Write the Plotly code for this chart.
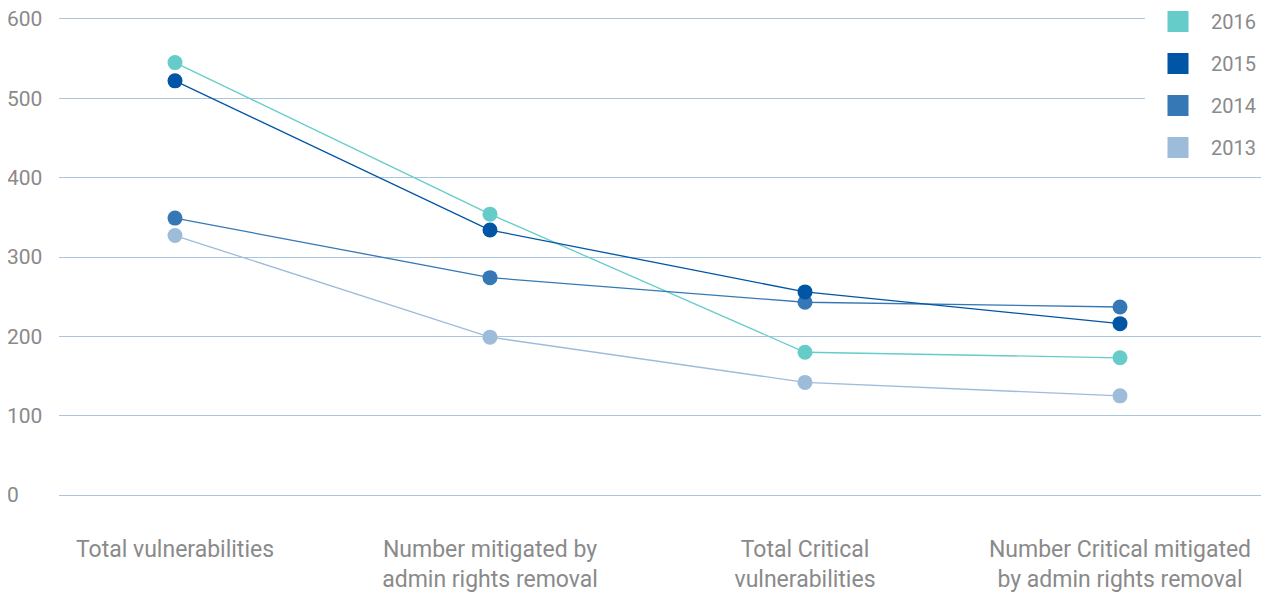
import plotly.graph_objects as go

categories = [
    "Total vulnerabilities",
    "Number mitigated by<br>admin rights removal",
    "Total Critical<br>vulnerabilities",
    "Number Critical mitigated<br>by admin rights removal",
]
legend_years = ["2016", "2015", "2014", "2013"]
draw_order = ["2016", "2013", "2014", "2015"]
values = {
    "2013": [327, 199, 142, 125],
    "2014": [349, 274, 243, 237],
    "2015": [522, 334, 256, 216],
    "2016": [545, 354, 180, 173],
}
colors = {
    "2013": "#9dbcda",
    "2014": "#3578b5",
    "2015": "#0055a5",
    "2016": "#66ccc9",
}
y_ticks = [0, 100, 200, 300, 400, 500, 600]

FONT = "Roboto, Open Sans, sans-serif"
GRAY = "#8a8a8a"
GRID = "#a9c5e0"

fig = go.Figure()
for yr in draw_order:
    fig.add_trace(go.Scatter(
        x=categories, y=values[yr], mode="lines+markers",
        line=dict(color=colors[yr], width=1.3),
        marker=dict(color=colors[yr], size=15),
        showlegend=False, hoverinfo="skip",
    ))
for yr in legend_years:
    fig.add_trace(go.Scatter(
        x=[None], y=[None], mode="markers", name=yr,
        legendgroup=yr,
        marker=dict(color=colors[yr], symbol="square", size=16,
                    line=dict(color=colors[yr], width=7)),
    ))
# invisible trace to activate the label axis
fig.add_trace(go.Scatter(x=[categories[0]], y=[None], yaxis="y2",
                         showlegend=False, hoverinfo="skip"))

T, B, L, R = 3, 97, 0, 15
PH = 592 - T - B
PW = 1269 - L - R
DOM0 = 51
STEP = 315.0
FIRST = 167.0

fig.update_layout(
    width=1269, height=592,
    margin=dict(l=L, r=R, t=T, b=B, autoexpand=False),
    paper_bgcolor="white", plot_bgcolor="white",
    font=dict(family=FONT, size=21, color=GRAY),
    showlegend=True,
    legend=dict(
        x=1137 / PW, xanchor="left",
        y=1 + (T + 6) / PH, yanchor="top",
        bgcolor="white", traceorder="grouped",
        tracegroupgap=13.0, itemwidth=56,
        font=dict(family=FONT, size=20, color=GRAY),
    ),
    xaxis=dict(
        type="category", automargin=False,
        domain=[DOM0 / PW, 1],
        range=[-(FIRST - DOM0) / STEP, (PW - FIRST) / STEP],
        showgrid=False, zeroline=False, showline=False,
        ticks="outside", ticklen=25, tickcolor="rgba(0,0,0,0)",
        tickfont=dict(family=FONT, size=23, color=GRAY),
    ),
    yaxis=dict(
        range=[-10, 610], automargin=False,
        tickvals=y_ticks,
        showticklabels=False,
        showgrid=True, gridcolor=GRID, gridwidth=1,
        zeroline=False, showline=False,
    ),
    yaxis2=dict(
        overlaying="y", anchor="free", position=0, side="left",
        range=[-10, 610], tickvals=y_ticks, automargin=False,
        ticklabelposition="inside", ticklabeloverflow="allow",
        ticklabelstandoff=-5,
        showgrid=False, zeroline=False, showline=False,
        tickfont=dict(family=FONT, size=21, color=GRAY),
    ),
)

fig.write_html("out.html")
